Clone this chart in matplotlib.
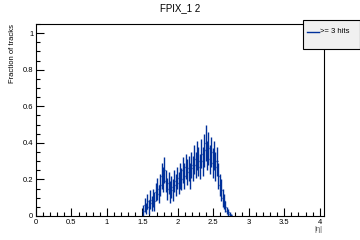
import matplotlib
matplotlib.use("Agg")
import matplotlib.pyplot as plt
import numpy as np
from matplotlib.ticker import MultipleLocator
from matplotlib.patches import Rectangle
from matplotlib.lines import Line2D

plt.rcParams['font.family'] = ['Liberation Sans', 'DejaVu Sans']

title = "FPIX_1 2"
legend_label = ">= 3 hits"
bin_width = 0.02
eta_lo = [1.50, 1.52, 1.54, 1.56, 1.58, 1.60, 1.62, 1.64, 1.66, 1.68,
          1.70, 1.72, 1.74, 1.76, 1.78, 1.80, 1.82, 1.84, 1.86, 1.88,
          1.90, 1.92, 1.94, 1.96, 1.98, 2.00, 2.02, 2.04, 2.06, 2.08,
          2.10, 2.12, 2.14, 2.16, 2.18, 2.20, 2.22, 2.24, 2.26, 2.28,
          2.30, 2.32, 2.34, 2.36, 2.38, 2.40, 2.42, 2.44, 2.46, 2.48,
          2.50, 2.52, 2.54, 2.56, 2.58, 2.60, 2.62, 2.64, 2.66, 2.68,
          2.70, 2.72, 2.74]
frac = [0.03, 0.06, 0.04, 0.08, 0.05, 0.09, 0.07, 0.10, 0.08, 0.13,
        0.15, 0.12, 0.17, 0.22, 0.20, 0.25, 0.19, 0.15, 0.18, 0.13,
        0.16, 0.14, 0.19, 0.17, 0.21, 0.18, 0.22, 0.20, 0.25, 0.22,
        0.27, 0.24, 0.26, 0.22, 0.28, 0.26, 0.31, 0.28, 0.33, 0.30,
        0.27, 0.34, 0.30, 0.36, 0.40, 0.33, 0.37, 0.31, 0.35, 0.29,
        0.33, 0.27, 0.30, 0.22, 0.17, 0.14, 0.10, 0.08, 0.05, 0.03,
        0.02, 0.01, 0.005]
frac_err = [0.03, 0.04, 0.03, 0.04, 0.04, 0.05, 0.04, 0.05, 0.05, 0.05,
            0.06, 0.05, 0.06, 0.07, 0.07, 0.07, 0.06, 0.06, 0.06, 0.06,
            0.06, 0.06, 0.06, 0.06, 0.06, 0.06, 0.07, 0.06, 0.07, 0.07,
            0.07, 0.07, 0.07, 0.07, 0.07, 0.07, 0.08, 0.07, 0.08, 0.08,
            0.07, 0.08, 0.08, 0.09, 0.10, 0.08, 0.09, 0.08, 0.08, 0.08,
            0.08, 0.08, 0.08, 0.07, 0.06, 0.06, 0.05, 0.04, 0.03, 0.02,
            0.02, 0.01, 0.005]

col = '#00309a'

fig = plt.figure(figsize=(3.6, 2.4), dpi=100)
ax = fig.add_axes([0.1, 0.1, 0.8, 0.8])

centers = np.array(eta_lo) + bin_width / 2
ax.errorbar(centers, frac, yerr=frac_err, xerr=bin_width / 2, fmt='none',
            ecolor=col, elinewidth=1.0, capsize=0)

ax.set_xlim(0, 4.06)
ax.set_ylim(0, 1.05)
ax.xaxis.set_major_locator(MultipleLocator(0.5))
ax.xaxis.set_minor_locator(MultipleLocator(0.1))
ax.yaxis.set_major_locator(MultipleLocator(0.2))
ax.yaxis.set_minor_locator(MultipleLocator(0.05))
ax.set_xticks(np.arange(0, 4.01, 0.5))
ax.set_xticklabels(['0', '0.5', '1', '1.5', '2', '2.5', '3', '3.5', '4'])
ax.set_yticks(np.arange(0, 1.01, 0.2))
ax.set_yticklabels(['0', '0.2', '0.4', '0.6', '0.8', '1'])
ax.tick_params(which='both', direction='in', labelsize=5.5, width=0.8, pad=2)
ax.tick_params(which='major', length=6)
ax.tick_params(which='minor', length=3)
for s in ax.spines.values():
    s.set_linewidth(0.8)

fig.text(0.5, 0.965, title, ha='center', va='center', fontsize=7)
fig.text(0.035, 0.9, "Fraction of tracks", rotation=90, ha='center', va='top', fontsize=5.5)
fig.text(0.885, 0.045, "|\u03b7|", ha='center', va='center', fontsize=5.5, color='#555555')

fig.patches.append(Rectangle((0.842, 0.796), 0.158, 0.121, transform=fig.transFigure,
                             facecolor='#f0f0f0', edgecolor='black', linewidth=0.8, zorder=5))
fig.lines.append(Line2D([0.852, 0.885], [0.867, 0.867], transform=fig.transFigure,
                        color=col, linewidth=1.0, zorder=6))
fig.text(0.89, 0.867, legend_label, ha='left', va='center', fontsize=5.5, zorder=7)

fig.savefig("out.png", dpi=100)
